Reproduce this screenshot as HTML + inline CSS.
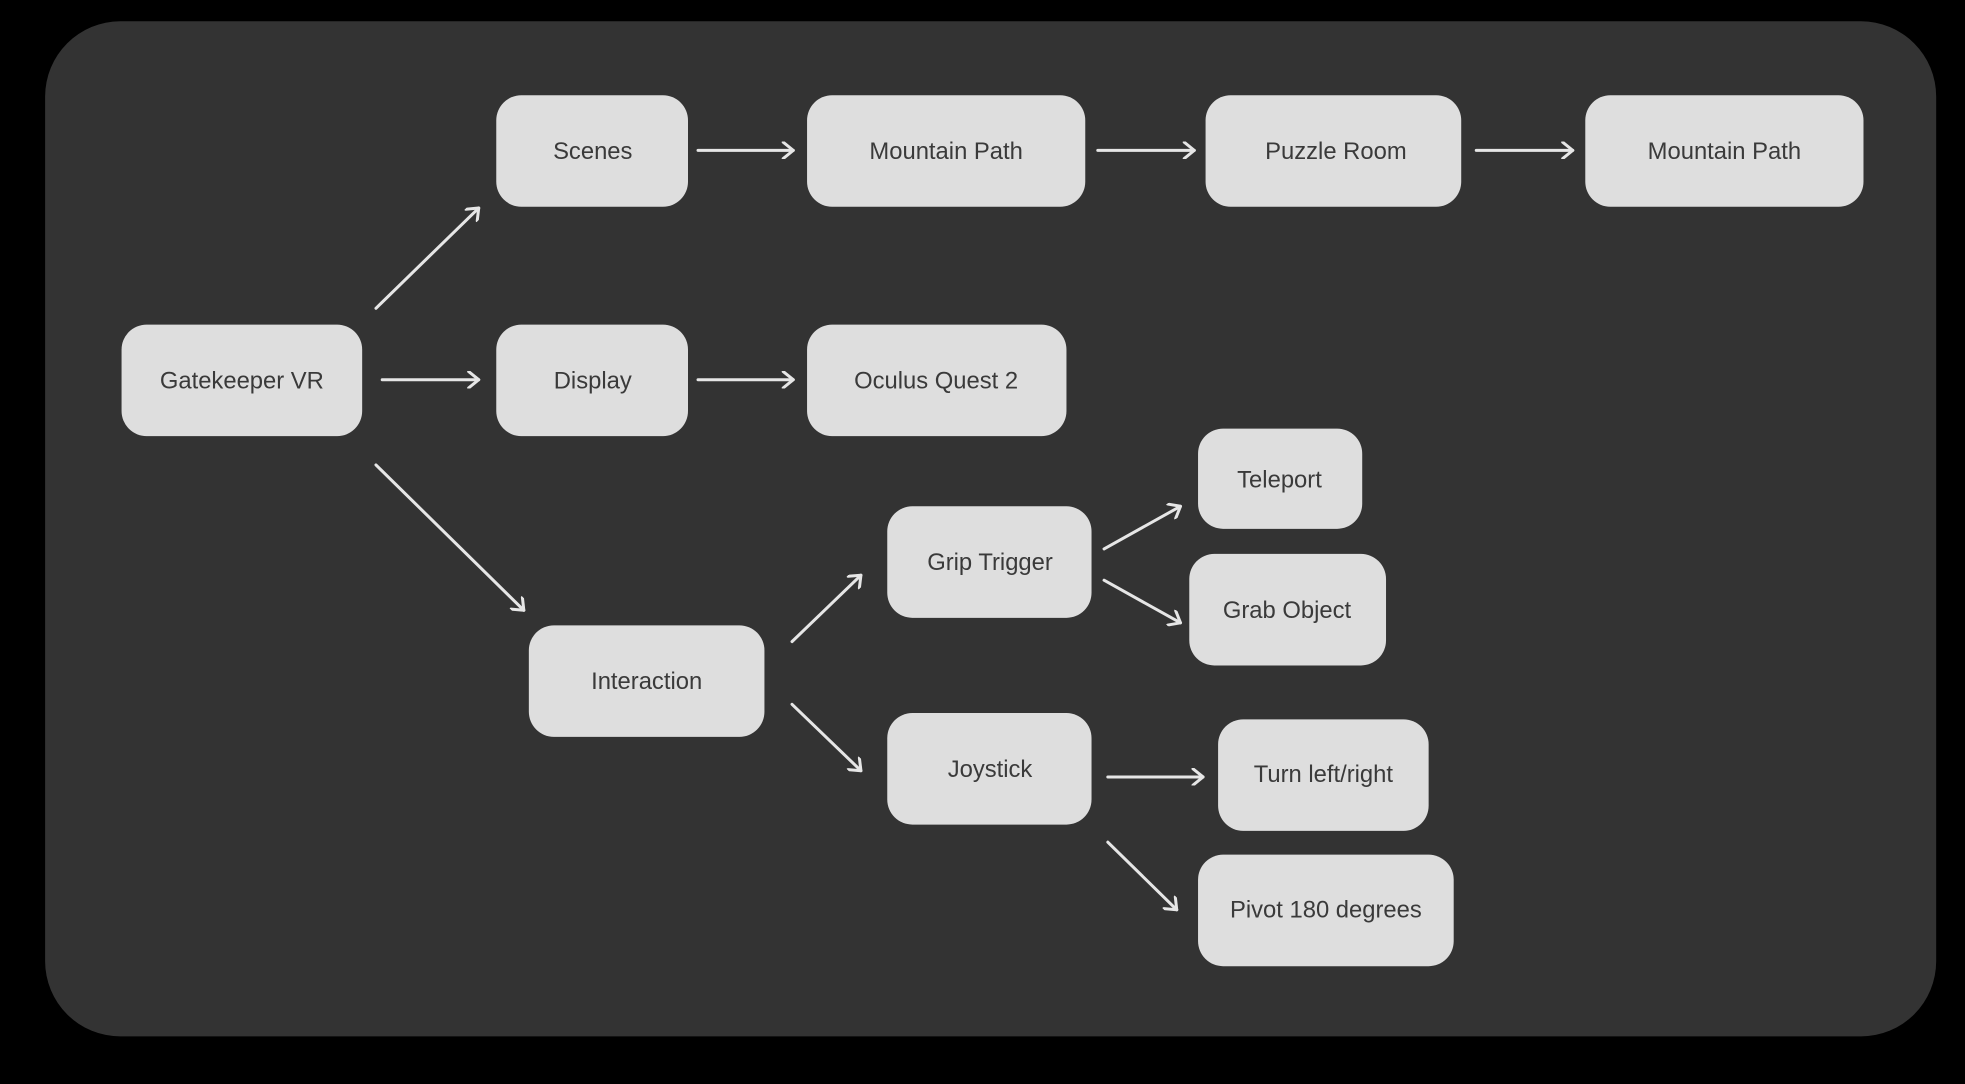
<!DOCTYPE html>
<html><head><meta charset="utf-8"><style>
html,body{margin:0;padding:0;background:#000;width:1965px;height:1084px;overflow:hidden}
svg{display:block}
text{font-family:"Liberation Sans",sans-serif;font-size:19px;fill:#3a3a3a;text-anchor:middle;dominant-baseline:central}
.n{fill:#dedede}
.a{stroke:#e6e6e6;stroke-width:2.4;fill:none;stroke-linecap:round;stroke-linejoin:round}
</style></head><body>
<svg width="1965" height="1084" viewBox="0 0 1568 865" preserveAspectRatio="none">
<defs><marker id="h" markerWidth="14" markerHeight="14" refX="11" refY="7" orient="auto" markerUnits="userSpaceOnUse"><path d="M3,0.5 L11,7 L3,13.5" fill="none" stroke="#e6e6e6" stroke-width="2.4" stroke-linecap="round" stroke-linejoin="round"/></marker></defs>
<rect x="0" y="0" width="1568" height="865" fill="#000"/>
<rect x="36" y="17" width="1509" height="810" rx="60" fill="#333"/>
<g>
<rect class="n" x="396" y="76" width="153" height="89" rx="20"/><text x="473" y="121">Scenes</text>
<rect class="n" x="644" y="76" width="222" height="89" rx="20"/><text x="755" y="121">Mountain Path</text>
<rect class="n" x="962" y="76" width="204" height="89" rx="20"/><text x="1066" y="121">Puzzle Room</text>
<rect class="n" x="1265" y="76" width="222" height="89" rx="20"/><text x="1376" y="121">Mountain Path</text>
<rect class="n" x="97" y="259" width="192" height="89" rx="20"/><text x="193" y="304">Gatekeeper VR</text>
<rect class="n" x="396" y="259" width="153" height="89" rx="20"/><text x="473" y="304">Display</text>
<rect class="n" x="644" y="259" width="207" height="89" rx="20"/><text x="747" y="304">Oculus Quest 2</text>
<rect class="n" x="956" y="342" width="131" height="80" rx="20"/><text x="1021" y="383">Teleport</text>
<rect class="n" x="708" y="404" width="163" height="89" rx="20"/><text x="790" y="449">Grip Trigger</text>
<rect class="n" x="949" y="442" width="157" height="89" rx="20"/><text x="1027" y="487">Grab Object</text>
<rect class="n" x="422" y="499" width="188" height="89" rx="20"/><text x="516" y="544">Interaction</text>
<rect class="n" x="708" y="569" width="163" height="89" rx="20"/><text x="790" y="614">Joystick</text>
<rect class="n" x="972" y="574" width="168" height="89" rx="20"/><text x="1056" y="618">Turn left/right</text>
<rect class="n" x="956" y="682" width="204" height="89" rx="20"/><text x="1058" y="726">Pivot 180 degrees</text>
</g>
<g class="a">
<line x1="300" y1="246" x2="382" y2="166" marker-end="url(#h)"/>
<line x1="305" y1="303" x2="382" y2="303" marker-end="url(#h)"/>
<line x1="300" y1="371" x2="418" y2="487" marker-end="url(#h)"/>
<line x1="557" y1="120" x2="633" y2="120" marker-end="url(#h)"/>
<line x1="876" y1="120" x2="953" y2="120" marker-end="url(#h)"/>
<line x1="1178" y1="120" x2="1255" y2="120" marker-end="url(#h)"/>
<line x1="557" y1="303" x2="633" y2="303" marker-end="url(#h)"/>
<line x1="632" y1="512" x2="687" y2="459" marker-end="url(#h)"/>
<line x1="632" y1="562" x2="687" y2="615" marker-end="url(#h)"/>
<line x1="881" y1="438" x2="942" y2="404" marker-end="url(#h)"/>
<line x1="881" y1="463" x2="942" y2="497" marker-end="url(#h)"/>
<line x1="884" y1="620" x2="960" y2="620" marker-end="url(#h)"/>
<line x1="884" y1="672" x2="939" y2="726" marker-end="url(#h)"/>
</g>
</svg>
</body></html>
